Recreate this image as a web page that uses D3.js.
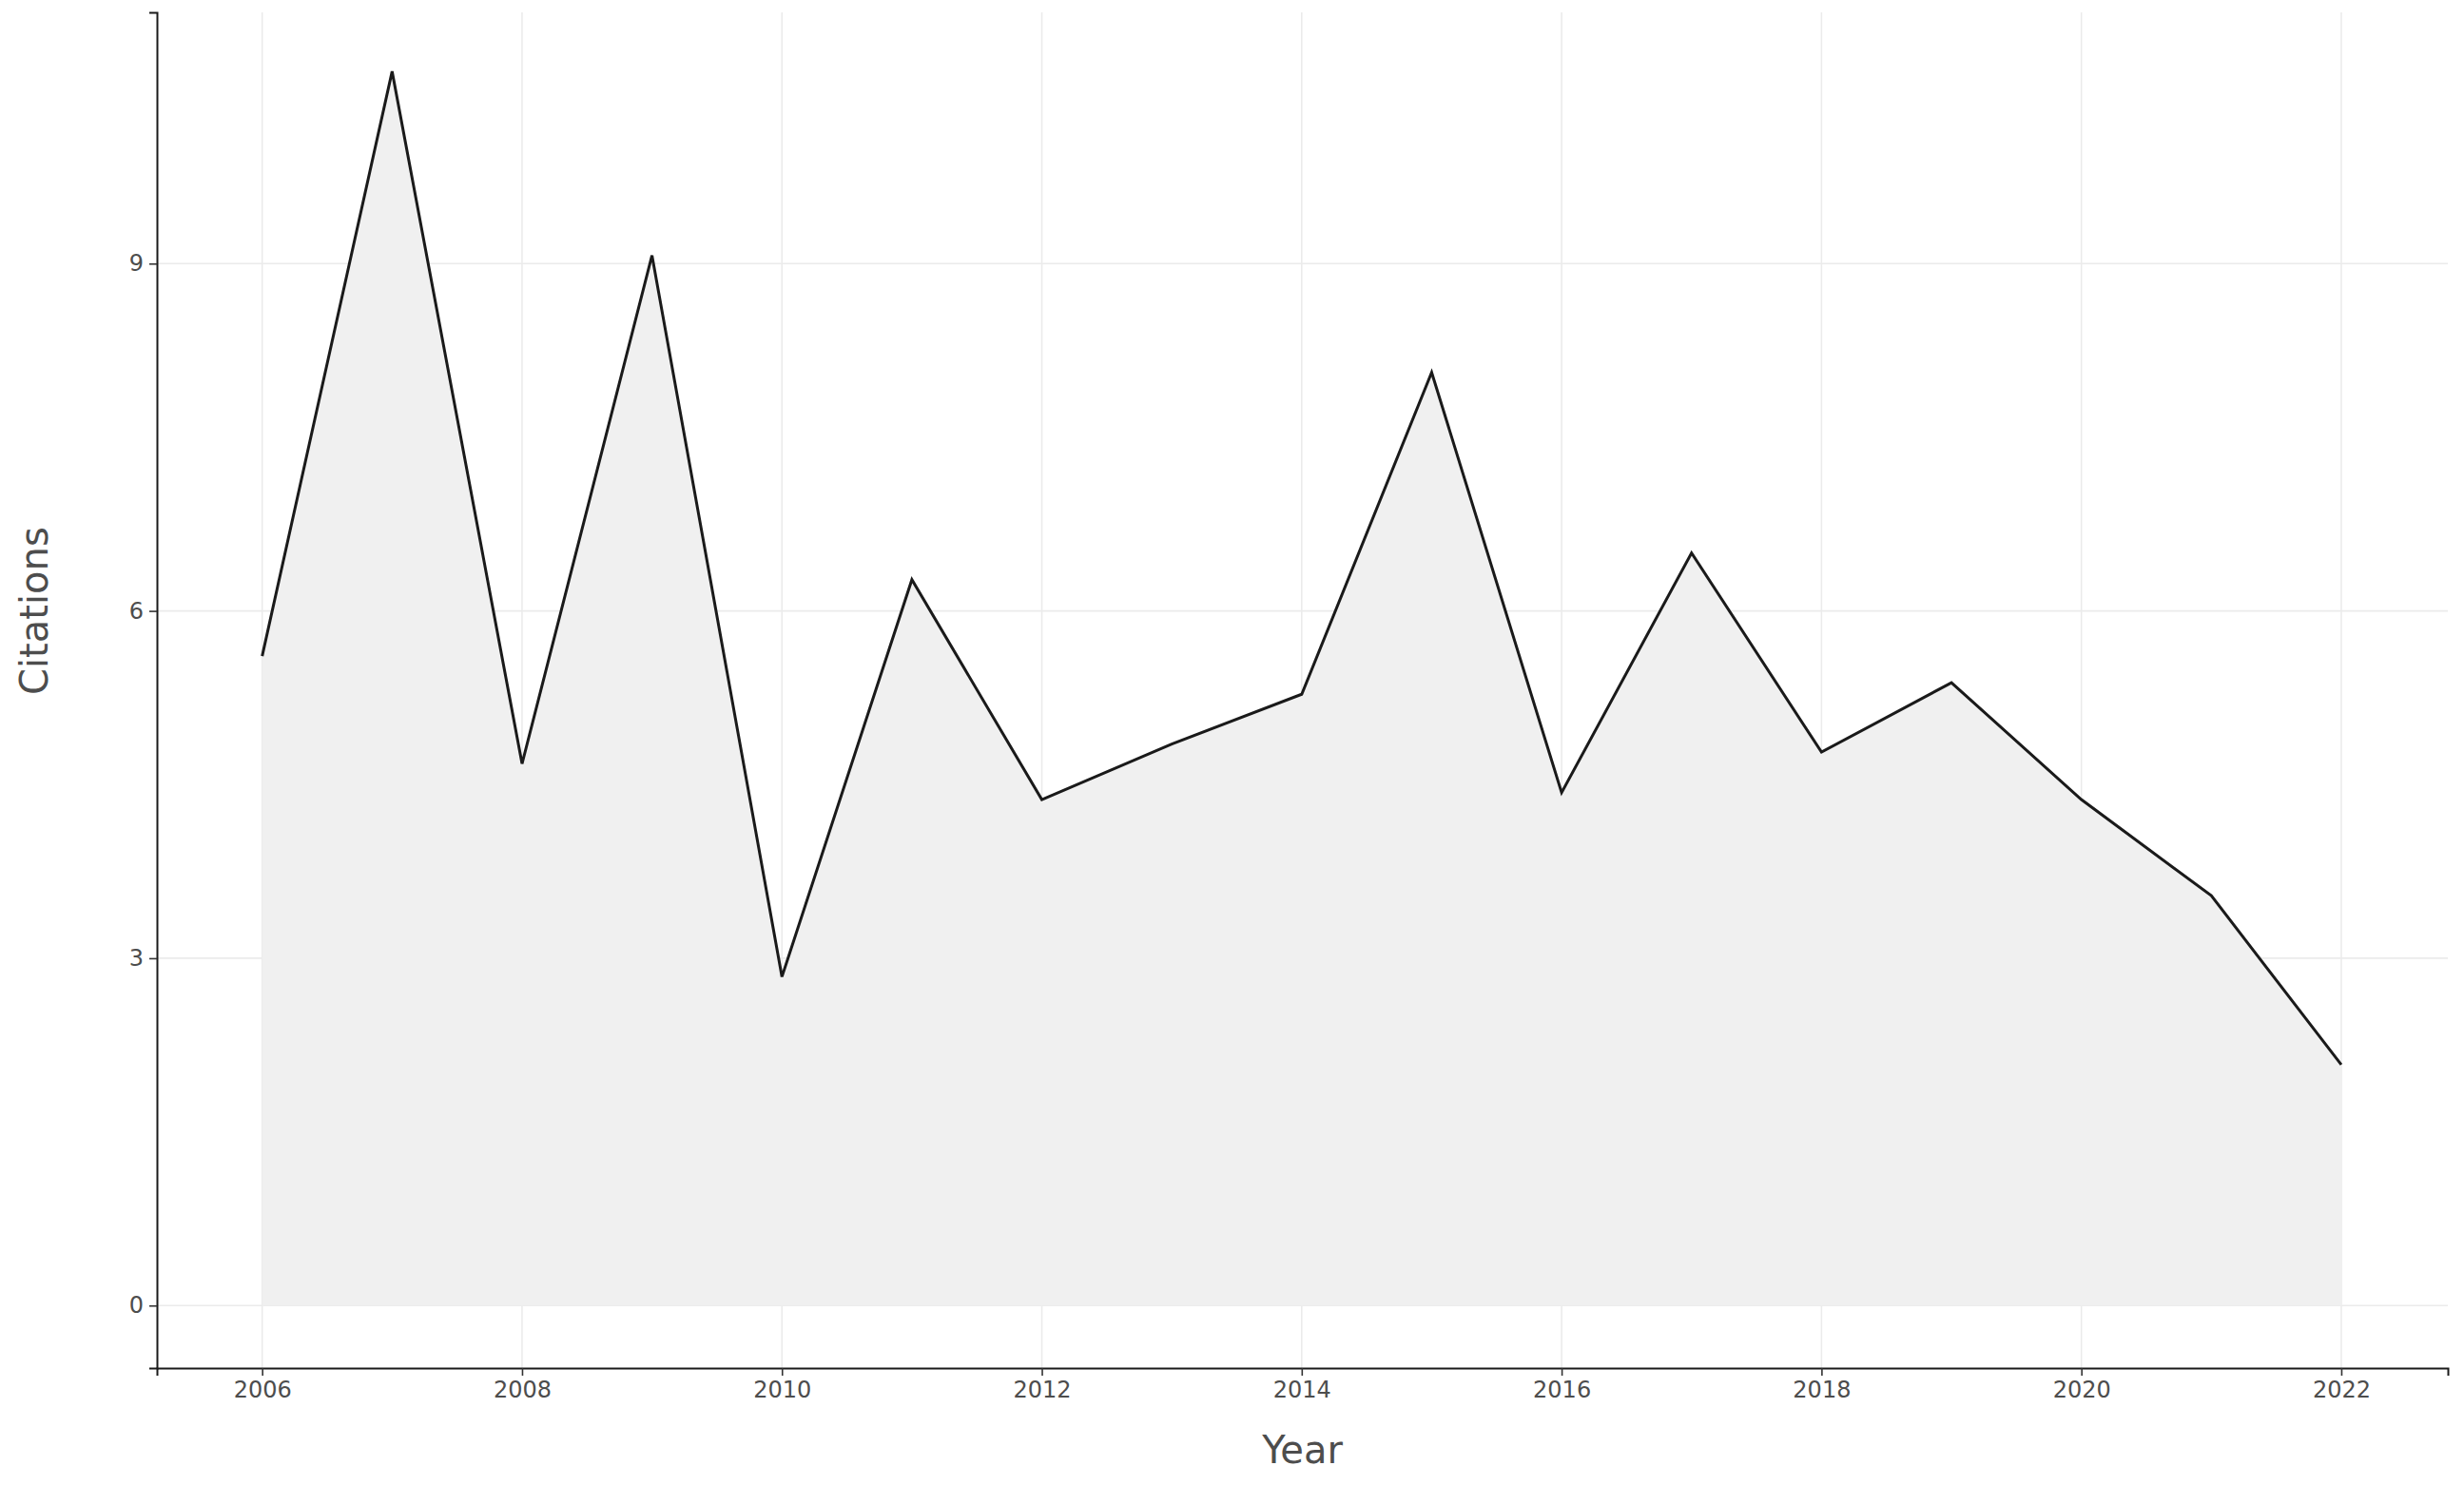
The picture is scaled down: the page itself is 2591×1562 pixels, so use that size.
<!DOCTYPE html>
<html lang="en">
<head>
<meta charset="UTF-8">
<title>Citations per year</title>
<script src="https://d3js.org/d3.v7.min.js"></script>
<style>
  body { margin: 0; background: #fff; }
  text { font-family: "DejaVu Sans", sans-serif; }
</style>
</head>
<body>
<script>
var years = [2006, 2007, 2008, 2009, 2010, 2011, 2012, 2013, 2014, 2015, 2016, 2017, 2018, 2019, 2020, 2021, 2022];
var citations = [5.61, 10.66, 4.68, 9.07, 2.84, 6.27, 4.37, 4.85, 5.28, 8.06, 4.43, 6.50, 4.78, 5.38, 4.37, 3.54, 2.08];
var xTicks = [2006, 2008, 2010, 2012, 2014, 2016, 2018, 2020, 2022];
var yTicks = [0, 3, 6, 9];

var W = 2591, H = 1562;
var margin = {top: 13, right: 17, bottom: 123, left: 165};
var width = W - margin.left - margin.right,
    height = H - margin.top - margin.bottom;

var data = years.map(function(y, i) { return {year: y, value: citations[i]}; });

var x = d3.scaleLinear().domain([2005.19, 2022.82]).range([0, width]);
var y = d3.scaleLinear().domain([-0.54, 11.17]).range([height, 0]);

var svg = d3.select("body").append("svg")
    .attr("width", W).attr("height", H)
    .append("g")
    .attr("transform", "translate(" + margin.left + "," + margin.top + ")");

// grid
svg.selectAll(".gx").data(xTicks).enter().append("line")
    .attr("x1", d => x(d)).attr("x2", d => x(d))
    .attr("y1", 0).attr("y2", height)
    .attr("stroke", "#ebebeb").attr("stroke-width", 1.6);
svg.selectAll(".gy").data(yTicks).enter().append("line")
    .attr("y1", d => y(d)).attr("y2", d => y(d))
    .attr("x1", 0).attr("x2", width)
    .attr("stroke", "#ebebeb").attr("stroke-width", 1.6);

// area + line
svg.append("path").datum(data)
    .attr("fill", "#f0f0f0")
    .attr("d", d3.area().x(d => x(d.year)).y0(y(0)).y1(d => y(d.value)));
svg.append("path").datum(data)
    .attr("fill", "none").attr("stroke", "#1a1a1a").attr("stroke-width", 3)
    .attr("d", d3.line().x(d => x(d.year)).y(d => y(d.value)));

// axes
var xAxis = svg.append("g").attr("transform", "translate(0," + height + ")")
    .call(d3.axisBottom(x).tickValues(xTicks).tickFormat(d3.format("d")).tickSizeOuter(0).tickSize(8).tickPadding(6));
var yAxis = svg.append("g")
    .call(d3.axisLeft(y).tickValues(yTicks).tickSizeOuter(0).tickSize(8).tickPadding(6));
[xAxis, yAxis].forEach(function(a) {
    a.select(".domain").attr("stroke", "#1a1a1a").attr("stroke-width", 2);
    a.selectAll(".tick line").attr("stroke", "#333").attr("stroke-width", 1.6);
    a.selectAll(".tick text").attr("fill", "#4d4d4d").style("font-size", "24px");
});

// titles
svg.append("text")
    .attr("x", width / 2).attr("y", height + 100)
    .attr("text-anchor", "middle").attr("fill", "#4d4d4d")
    .style("font-size", "40px").text("Year");
svg.append("text")
    .attr("transform", "rotate(-90)")
    .attr("x", -y(6.0)).attr("y", -margin.left + 50)
    .attr("text-anchor", "middle").attr("fill", "#4d4d4d")
    .style("font-size", "40px").text("Citations");
</script>
</body>
</html>
